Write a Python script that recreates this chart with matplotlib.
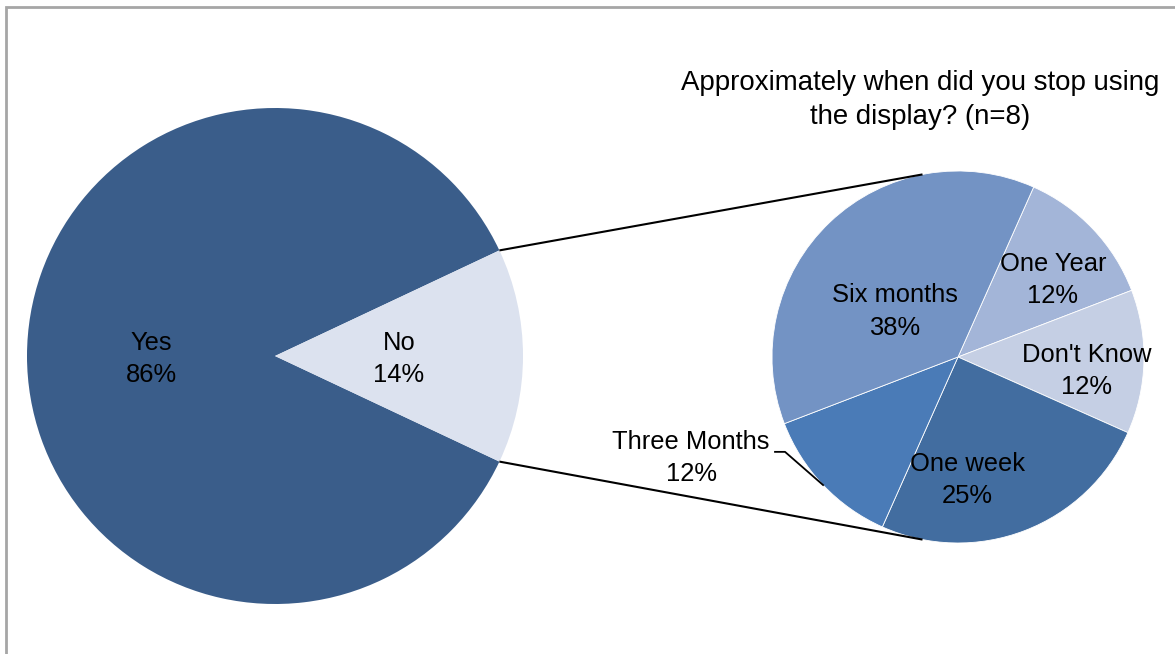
import numpy as np
import matplotlib
matplotlib.use("Agg")
from matplotlib import pyplot as plt
from matplotlib.patches import Rectangle

# Dados: uso do display
uso_labels = ["Yes", "No"]
uso_valores = [86, 14]
uso_cores = ["#3A5D8A", "#DCE2EF"]

# Dados: quando parou de usar (n=8)
parou_labels = ["One Year", "Don't Know", "One week", "Three Months", "Six months"]
parou_valores = [1, 1, 2, 1, 3]
parou_pct = ["12%", "12%", "25%", "12%", "38%"]
parou_cores = ["#A3B5D8", "#C5CFE4", "#426DA0", "#4A7BB7", "#7393C4"]

titulo = "Approximately when did you stop using\nthe display? (n=8)"

W, H = 1175, 654
fig = plt.figure(figsize=(W / 100, H / 100), dpi=100)
ax = fig.add_axes([0, 0, 1, 1])

fonte = ["Liberation Sans", "DejaVu Sans"]
tam = 18.4
esp = 1.45
desce = 3  # ajuste vertical dos rotulos

# Pizza principal
c1, r1 = (275, H - 356), 248
ini1 = uso_valores[1] / sum(uso_valores) * 360 / 2
fatias1, _ = ax.pie(uso_valores, colors=uso_cores, startangle=ini1, center=c1,
                    radius=r1, frame=True, wedgeprops=dict(linewidth=0))
for f, lab, v in zip(fatias1, uso_labels, uso_valores):
    meio = np.deg2rad((f.theta1 + f.theta2) / 2)
    ax.text(c1[0] + 0.5 * r1 * np.cos(meio),
            c1[1] + 0.5 * r1 * np.sin(meio) - desce,
            f"{lab}\n{v}%", ha="center", va="center", fontsize=tam,
            family=fonte, linespacing=esp)

# Pizza secundaria
c2, r2 = (958, H - 357), 186
fatias2, _ = ax.pie(parou_valores, colors=parou_cores, startangle=66,
                    counterclock=False, center=c2, radius=r2, frame=True,
                    wedgeprops=dict(linewidth=0.6, edgecolor="white"))

# posicao dos rotulos internos (em raios, relativa ao centro)
pos_rotulos = {"One Year": (0.51, 0.43), "Don't Know": (0.69, -0.06),
               "One week": (0.05, -0.645), "Six months": (-0.34, 0.26)}
for f, lab, p in zip(fatias2, parou_labels, parou_pct):
    if lab in pos_rotulos:
        dx, dy = pos_rotulos[lab]
        ax.text(c2[0] + dx * r2, c2[1] + dy * r2 - desce, f"{lab}\n{p}",
                ha="center", va="center", fontsize=tam, family=fonte,
                linespacing=esp)
    else:
        # rotulo externo com linha guia
        meio = np.deg2rad((f.theta1 + f.theta2) / 2)
        px, py = c2[0] + r2 * np.cos(meio), c2[1] + r2 * np.sin(meio)
        cx, cy = c2[0] - 0.93 * r2, c2[1] - 0.51 * r2
        ax.plot([px, cx, cx - 10], [py, cy, cy], color="black", lw=1.3)
        ax.text(cx - 94, cy - 3 - desce, f"{lab}\n{p}", ha="center",
                va="center", fontsize=tam, family=fonte, linespacing=esp)

# Linhas de ligacao entre as pizzas
for s in (1, -1):
    a1 = np.deg2rad(s * ini1)
    a2 = np.deg2rad(s * 101)
    ax.plot([c1[0] + r1 * np.cos(a1), c2[0] + r2 * np.cos(a2)],
            [c1[1] + r1 * np.sin(a1), c2[1] + r2 * np.sin(a2)],
            color="black", lw=1.5, solid_capstyle="butt")

ax.set_xlim(0, W)
ax.set_ylim(0, H)
ax.set_aspect("equal")
ax.axis("off")

ax.text(920, H - 100, titulo, ha="center", va="center", fontsize=19.9,
        family=fonte, linespacing=1.45, multialignment="center")

# Moldura
fig.patches.append(Rectangle((6 / W, -0.1), 1.2, (H - 7) / H + 0.1,
                             transform=fig.transFigure, fill=False,
                             edgecolor="#A6A6A6", lw=2))

fig.savefig("out.png", dpi=100, facecolor="white")
